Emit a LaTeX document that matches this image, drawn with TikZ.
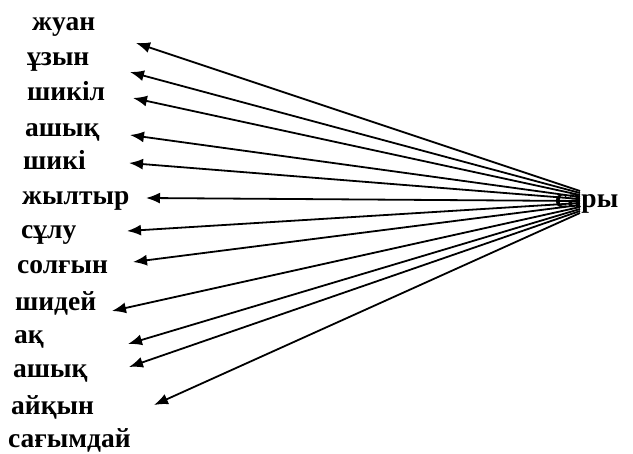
\documentclass[tikz,border=0pt]{standalone}
\usepackage{fontspec}
\setmainfont{Liberation Serif}
\usetikzlibrary{arrows.meta}
\begin{document}
\begin{tikzpicture}[x=1pt,y=-1pt]
				\tikzset{w/.style={anchor=base west, inner sep=0pt, font=\fontsize{27.5}{30}\bfseries},f/.style={<-,>={Latex[length=14pt,width=11pt]},line width=1.8pt}};
				\useasboundingbox (0,0) rectangle (633,454);
				\node[w] (l1) at (32,31) {жуан};
				\node[w] (l2) at (27,66) {ұзын};
				\node[w] (l3) at (27,101) {шикіл};
				\node[w] (l4) at (25,137) {ашық};
				\node[w] (l5) at (23,170) {шикі};
				\node[w] (l6) at (22,205) {жылтыр};
				\node[w] (l7) at (21,239) {сұлу};
				\node[w] (l8) at (17,274) {солғын};
				\node[w] (l9) at (15,311) {шидей};
				\node[w] (l10) at (14,344) {ақ};
				\node[w] (l11) at (13,378) {ашық};
				\node[w] (l12) at (11,415) {айқын};
				\node[w] (l13) at (8,448) {сағымдай};
				\node[w] (sary) at (555,208) {сары};

				\coordinate (t1) at (136,43);
				\coordinate (t2) at (130,72);
				\coordinate (t3) at (133,98);
				\coordinate (t4) at (130,135);
				\coordinate (t5) at (129,163);
				\coordinate (t6) at (146,198);
				\coordinate (t7) at (127,231);
				\coordinate (t8) at (133,262);
				\coordinate (t9) at (112,311);
				\coordinate (t10) at (128,344);
				\coordinate (t11) at (129,367);
				\coordinate (t12) at (154,405);

				% the arrows leave a thick black wedge over the word
				\foreach \i/\hy in {1/191,2/193,3/195,4/197,5/199,6/201,7/203,8/205,9/207,10/209,11/211,12/213}{
					\coordinate (h\i) at (580,\hy);
					\draw[f] (t\i) -- (h\i);
				}
			\end{tikzpicture}
\end{document}
